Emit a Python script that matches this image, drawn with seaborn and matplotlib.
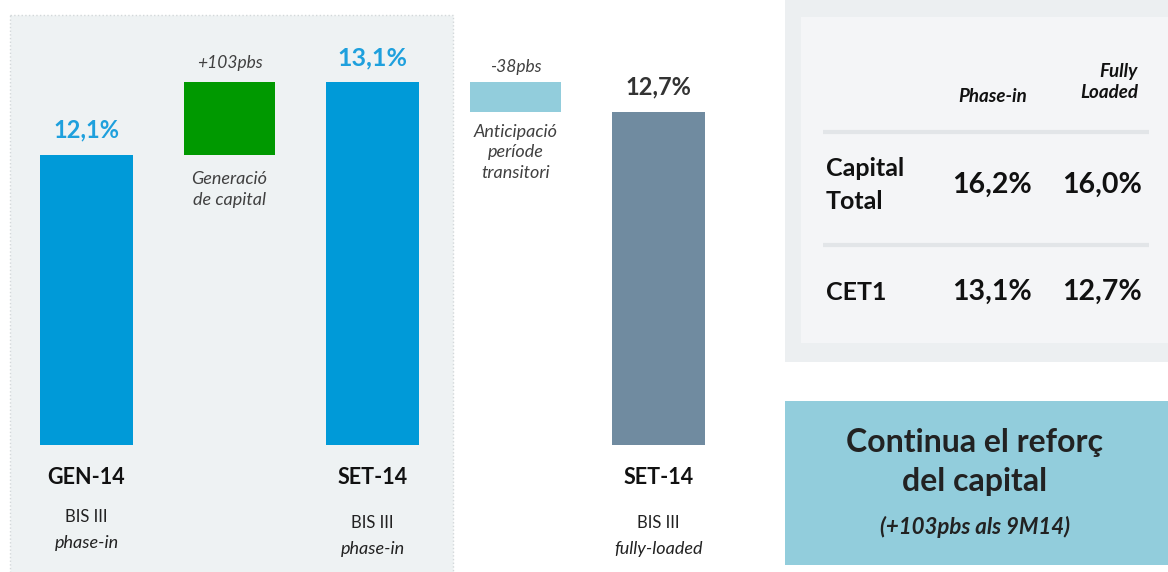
import matplotlib
matplotlib.use("Agg")
import matplotlib.pyplot as plt
from matplotlib.patches import Rectangle
import seaborn as sns
import pandas as pd

# dades del grafic (CET1, %)
steps = ["GEN-14", "Generació", "SET-14", "Anticipació", "SET-14 FL"]
total_steps = ["GEN-14", "SET-14", "SET-14 FL"]
totals = [12.1, 13.1, 12.7]
total_labels = ["12,1%", "13,1%", "12,7%"]
delta_labels = ["+103pbs", "-38pbs"]
delta_notes = ["Generació\nde capital", "Anticipació\nperíode\ntransitori"]
period_labels = ["GEN-14", "SET-14", "SET-14"]
basis_labels = ["phase-in", "phase-in", "fully-loaded"]

# taula de la dreta
table_cols = ["Phase-in", "Fully\nLoaded"]
table_rows = ["Capital\nTotal", "CET1"]
phase_in = ["16,2%", "13,1%"]
fully_loaded = ["16,0%", "12,7%"]

box_title = "Continua el reforç\ndel capital"
box_note = "(+103pbs als 9M14)"

# colors
blue = "#009AD8"
green = "#009900"
light_blue = "#92CDDC"
slate = "#708BA0"
label_blue = "#1EA0DD"
dark = "#333333"

sns.set_theme(style="white")
plt.rcParams["font.family"] = ["Lato", "DejaVu Sans"]

fig = plt.figure(figsize=(11.68, 5.72), dpi=100)

# fons, taula i requadre (coordenades en pixels)
bg = fig.add_axes([0, 0, 1, 1], zorder=0)
bg.set_xlim(0, 1168)
bg.set_ylim(572, 0)
bg.axis("off")

bg.add_patch(Rectangle((10, 15), 443, 570, facecolor="#EEF2F3", edgecolor="#D3D8DA", lw=1, ls=":"))
bg.add_patch(Rectangle((785, -5), 390, 367, facecolor="#ECEFF1", edgecolor="none"))
bg.add_patch(Rectangle((801, 17), 370, 326, facecolor="#F4F5F7", edgecolor="none"))
for yy in [132, 245]:
    bg.plot([823, 1149], [yy, yy], color="#E2E5E8", lw=3, solid_capstyle="butt")
bg.add_patch(Rectangle((785, 401), 390, 164, facecolor=light_blue, edgecolor="none"))

col_x = [1032, 1142]
bg.text(993, 96, table_cols[0], ha="center", va="center", fontsize=13.5,
        fontweight="bold", style="italic", color="#111111")
bg.text(col_x[1] - 4, 82, table_cols[1], ha="right", va="center", fontsize=13.5,
        fontweight="bold", style="italic", color="#111111", multialignment="right",
        linespacing=1.3)
row_y = [185, 292]
for i, row in enumerate(table_rows):
    bg.text(826, row_y[i], row, ha="left", va="center", fontsize=18,
            fontweight="bold", color="#111111", linespacing=1.55)
    bg.text(col_x[0], row_y[i], phase_in[i], ha="right", va="center", fontsize=20.5,
            fontweight="bold", color="#111111")
    bg.text(col_x[1], row_y[i], fully_loaded[i], ha="right", va="center", fontsize=20.5,
            fontweight="bold", color="#111111")

bg.text(975, 462, box_title, ha="center", va="center", fontsize=23,
        fontweight="bold", color="#222222", linespacing=1.45)
bg.text(975, 527, box_note, ha="center", va="center", fontsize=16,
        fontweight="bold", style="italic", color="#222222")

# grafic de cascada
ax = fig.add_axes([0, 127 / 572, 780 / 1168, 445 / 572], zorder=1)
ax.set_facecolor("none")

df = pd.DataFrame({"step": total_steps, "value": totals})
sns.barplot(data=df, x="step", y="value", order=steps, hue="step",
            palette=dict(zip(total_steps, [blue, blue, slate])), saturation=1,
            width=0.65, linewidth=0, legend=False, ax=ax)

# barres flotants (variacions)
float_bottom = [totals[0], totals[2]]
float_height = [totals[1] - totals[0], totals[1] - totals[2]]
ax.bar([1, 3], float_height, bottom=float_bottom, width=0.64,
       color=[green, light_blue], linewidth=0)

ax.set_xlim(-0.605, 4.85)
ax.set_ylim(8.13, 14.23)
ax.axis("off")

pos_totals = [0, 2, 4]
label_colors = [label_blue, label_blue, dark]
label_sizes = [17, 18, 17]
for p, v, lab, c, s in zip(pos_totals, totals, total_labels, label_colors, label_sizes):
    ax.annotate(lab, (p, v), xytext=(0, 25), textcoords="offset pixels",
                ha="center", va="center", fontsize=s, fontweight="bold", color=c)

for p, top, bot, lab, note, off_top, off_bot in zip(
        [1, 3], [totals[1], totals[1]], float_bottom, delta_labels, delta_notes,
        [19, 15], [16, 12]):
    ax.annotate(lab, (p, top), xytext=(0, off_top), textcoords="offset pixels",
                ha="center", va="center", fontsize=12.5, style="italic", color="#404040")
    ax.annotate(note, (p, bot), xytext=(0, -off_bot), textcoords="offset pixels",
                ha="center", va="top", fontsize=13, style="italic", color="#404040",
                linespacing=1.35)

base = ax.get_ylim()[0]
sub_off = [72, 78, 78]
for p, per, basis, so in zip(pos_totals, period_labels, basis_labels, sub_off):
    ax.annotate(per, (p, base), xytext=(0, -33), textcoords="offset pixels",
                ha="center", va="center", fontsize=15.5, fontweight="bold", color="#111111")
    ax.annotate("BIS III", (p, base), xytext=(0, -so), textcoords="offset pixels",
                ha="center", va="center", fontsize=12, color="#222222")
    ax.annotate(basis, (p, base), xytext=(0, -so - 26), textcoords="offset pixels",
                ha="center", va="center", fontsize=13, style="italic", color="#222222")

fig.savefig("out.png", dpi=100)
